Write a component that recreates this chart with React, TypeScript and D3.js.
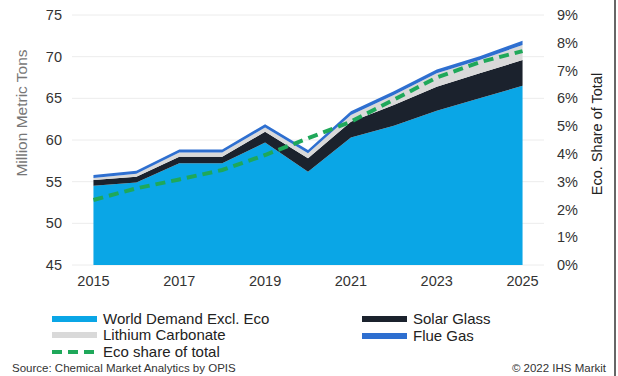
import React from "react";
import * as d3 from "d3";

const years = [2015, 2016, 2017, 2018, 2019, 2020, 2021, 2022, 2023, 2024, 2025];
const worldDemand = [54.5, 54.9, 57.2, 57.2, 59.7, 56.2, 60.3, 61.7, 63.5, 65.0, 66.5];
const solarGlass = [0.7, 0.7, 0.8, 0.8, 1.3, 1.6, 1.9, 2.5, 2.9, 3.0, 3.1];
const lithiumCarbonate = [0.25, 0.35, 0.5, 0.5, 0.5, 0.6, 0.8, 1.2, 1.6, 1.6, 1.8];
const flueGas = [0.35, 0.35, 0.35, 0.35, 0.4, 0.4, 0.45, 0.45, 0.45, 0.45, 0.5];
const ecoShare = [2.34, 2.76, 3.08, 3.42, 3.96, 4.56, 5.16, 5.95, 6.75, 7.3, 7.7];
const leftTicks = [45, 50, 55, 60, 65, 70, 75];
const rightTicks = [0, 1, 2, 3, 4, 5, 6, 7, 8, 9];
const xTickYears = [2015, 2017, 2019, 2021, 2023, 2025];

const seriesKeys = ["world", "solar", "lithium", "flue"];
const seriesColors: Record<string, string> = {
  world: "#0aa6e6",
  solar: "#1b222d",
  lithium: "#d9d9d9",
  flue: "#2e6fd0",
};

const W = 618;
const H = 376;
const plotLeft = 72;
const plotRight = 544;
const plotTop = 15;
const plotBottom = 265;
const FONT = "'Liberation Sans', Arial, sans-serif";

export default function App() {
  const x = d3
    .scaleBand<number>()
    .domain(years)
    .range([plotLeft, plotRight])
    .paddingInner(0)
    .paddingOuter(0);
  const cx = (yr: number) => (x(yr) as number) + x.bandwidth() / 2;
  const yL = d3.scaleLinear().domain([45, 75]).range([plotBottom, plotTop]);
  const yR = d3.scaleLinear().domain([0, 9]).range([plotBottom, plotTop]);

  const table = years.map((yr, i) => ({
    year: yr,
    world: worldDemand[i],
    solar: solarGlass[i],
    lithium: lithiumCarbonate[i],
    flue: flueGas[i],
  }));
  const stack = d3.stack<any>().keys(seriesKeys);
  const layers = stack(table);
  const area = d3
    .area<any>()
    .x((d) => cx(d.data.year))
    .y0((d) => yL(Math.max(d[0], 45)))
    .y1((d) => yL(d[1]));

  const line = d3
    .line<number>()
    .x((_, i) => cx(years[i]))
    .y((d) => yR(d));

  const legendItems = [
    { label: "World Demand Excl. Eco", color: seriesColors.world, x: 52, y: 319, type: "rect" },
    { label: "Lithium Carbonate", color: seriesColors.lithium, x: 52, y: 335, type: "rect" },
    { label: "Eco share of total", color: "#1fa85a", x: 52, y: 352, type: "dash" },
    { label: "Solar Glass", color: seriesColors.solar, x: 362, y: 319, type: "rect" },
    { label: "Flue Gas", color: seriesColors.flue, x: 362, y: 336, type: "rect" },
  ];

  return (
    <svg
      width={W}
      height={H}
      style={{ position: "absolute", left: 0, top: 0, background: "#fff" }}
      fontFamily={FONT}
    >
      <rect x={0} y={0} width={W} height={H} fill="#fff" />
      {leftTicks.map((t) => (
        <line
          key={"g" + t}
          x1={plotLeft}
          x2={plotRight}
          y1={yL(t)}
          y2={yL(t)}
          stroke="#ececec"
          strokeWidth={1}
        />
      ))}
      {layers.map((layer) => (
        <path key={layer.key} d={area(layer as any) || ""} fill={seriesColors[layer.key]} />
      ))}
      <path
        d={line(ecoShare) || ""}
        fill="none"
        stroke="#1fa85a"
        strokeWidth={4}
        strokeDasharray="10 6"
      />
      {leftTicks.map((t) => (
        <text
          key={"l" + t}
          x={62}
          y={yL(t)}
          dy="0.35em"
          textAnchor="end"
          fontSize={14.5}
          fill="#333"
        >
          {t}
        </text>
      ))}
      {rightTicks.map((t) => (
        <text key={"r" + t} x={557} y={yR(t)} dy="0.35em" fontSize={14.5} fill="#333">
          {t + "%"}
        </text>
      ))}
      {xTickYears.map((yr) => (
        <text
          key={"x" + yr}
          x={cx(yr)}
          y={281}
          dy="0.35em"
          textAnchor="middle"
          fontSize={14.5}
          fill="#333"
        >
          {yr}
        </text>
      ))}
      <text
        transform={`translate(22,113) rotate(-90)`}
        textAnchor="middle"
        dy="0.35em"
        fontSize={15.5}
        fill="#777"
      >
        Million Metric Tons
      </text>
      <text
        transform={`translate(597,134) rotate(-90)`}
        textAnchor="middle"
        dy="0.35em"
        fontSize={14.5}
        fill="#222"
      >
        Eco. Share of Total
      </text>
      {legendItems.map((it) => (
        <g key={it.label}>
          {it.type === "rect" ? (
            <rect x={it.x} y={it.y - 3} width={45} height={6} fill={it.color} />
          ) : (
            <line
              x1={it.x}
              x2={it.x + 45}
              y1={it.y}
              y2={it.y}
              stroke={it.color}
              strokeWidth={4}
              strokeDasharray="10 6"
            />
          )}
          <text x={it.x + 51} y={it.y} dy="0.35em" fontSize={15} fill="#222">
            {it.label}
          </text>
        </g>
      ))}
      <text x={12} y={372} fontSize={11.5} fill="#333">
        Source: Chemical Market Analytics by OPIS
      </text>
      <text x={606} y={372} textAnchor="end" fontSize={11.5} fill="#333">
        © 2022 IHS Markit
      </text>
      <line x1={615} x2={615} y1={0} y2={H} stroke="#666" strokeWidth={2} />
    </svg>
  );
}
